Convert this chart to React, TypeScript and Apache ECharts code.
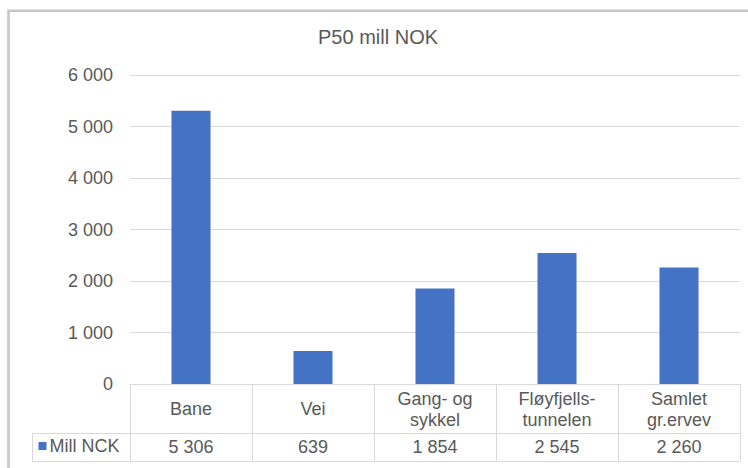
import React, { useEffect, useRef } from "react";
import * as echarts from "echarts";

const categories = ["Bane", "Vei", "Gang- og\nsykkel", "Fløyfjells-\ntunnelen", "Samlet\ngr.ervev"];
const values = [5306, 639, 1854, 2545, 2260];
const seriesName = "Mill NCK";
const titleText = "P50 mill NOK";
const yTicks = { min: 0, max: 6000, interval: 1000 };

const fmt = (v: number) => String(v).replace(/\B(?=(\d{3})+(?!\d))/g, " ");

const TEXT = "#595959";
const LINE = "#d9d9d9";
const FONT = "'Liberation Sans', Arial, sans-serif";

export default function App() {
  const ref = useRef<HTMLDivElement>(null);
  useEffect(() => {
    if (!ref.current) return;
    const chart = echarts.init(ref.current, undefined, { renderer: "svg" });
    chart.setOption({
      animation: false,
      backgroundColor: "#ffffff",
      textStyle: { fontFamily: FONT },
      title: {
        text: titleText,
        left: 318,
        top: 27,
        padding: 0,
        textStyle: { fontSize: 20, fontWeight: "normal", color: TEXT, fontFamily: FONT },
      },
      legend: {
        left: 38.5,
        top: 437,
        padding: 0,
        icon: "rect",
        itemWidth: 8,
        itemHeight: 8,
        itemGap: 0,
        textStyle: { fontSize: 18, color: TEXT, fontFamily: FONT, padding: [0, 0, 0, -2] },
        data: [seriesName],
      },
      grid: { left: 130, right: 8, top: 75, bottom: 84, containLabel: false },
      xAxis: [
        {
          type: "category",
          data: categories,
          position: "bottom",
          axisLine: { show: true, lineStyle: { color: LINE, width: 1 } },
          axisTick: { show: true, length: 77, lineStyle: { color: LINE, width: 1 } },
          axisLabel: {
            margin: 25,
            verticalAlign: "middle",
            lineHeight: 21,
            fontSize: 18,
            color: TEXT,
            fontFamily: FONT,
            interval: 0,
          },
        },
        {
          type: "category",
          data: values.map(fmt),
          position: "bottom",
          offset: 0,
          axisLine: { show: false },
          axisTick: { show: false },
          axisLabel: {
            margin: 63,
            verticalAlign: "middle",
            fontSize: 18,
            color: TEXT,
            fontFamily: FONT,
            interval: 0,
          },
        },
      ],
      yAxis: {
        type: "value",
        min: yTicks.min,
        max: yTicks.max,
        interval: yTicks.interval,
        axisLine: { show: false },
        axisTick: { show: false },
        splitLine: { lineStyle: { color: LINE, width: 1 } },
        axisLabel: {
          margin: 17,
          fontSize: 18,
          color: TEXT,
          fontFamily: FONT,
          formatter: (v: number) => fmt(v),
        },
      },
      series: [
        {
          name: seriesName,
          type: "bar",
          data: values,
          barWidth: "32%",
          itemStyle: { color: "#4472C4" },
        },
      ],
      graphic: [
        {
          type: "rect",
          shape: { x: 8.5, y: 10.8, width: 800, height: 500 },
          style: { fill: "none", stroke: "#c6c6c6", lineWidth: 2.6 },
          silent: true,
        },
        {
          type: "line",
          shape: { x1: 32, y1: 433.5, x2: 740, y2: 433.5 },
          style: { stroke: LINE, lineWidth: 1 },
          silent: true,
        },
        {
          type: "line",
          shape: { x1: 32, y1: 461.5, x2: 740, y2: 461.5 },
          style: { stroke: LINE, lineWidth: 1 },
          silent: true,
        },
        {
          type: "line",
          shape: { x1: 32.5, y1: 433.5, x2: 32.5, y2: 461.5 },
          style: { stroke: LINE, lineWidth: 1 },
          silent: true,
        },
      ],
    });
    return () => chart.dispose();
  }, []);
  return (
    <div
      ref={ref}
      style={{ position: "fixed", left: 0, top: 0, width: 748, height: 468, background: "#fff" }}
    />
  );
}
